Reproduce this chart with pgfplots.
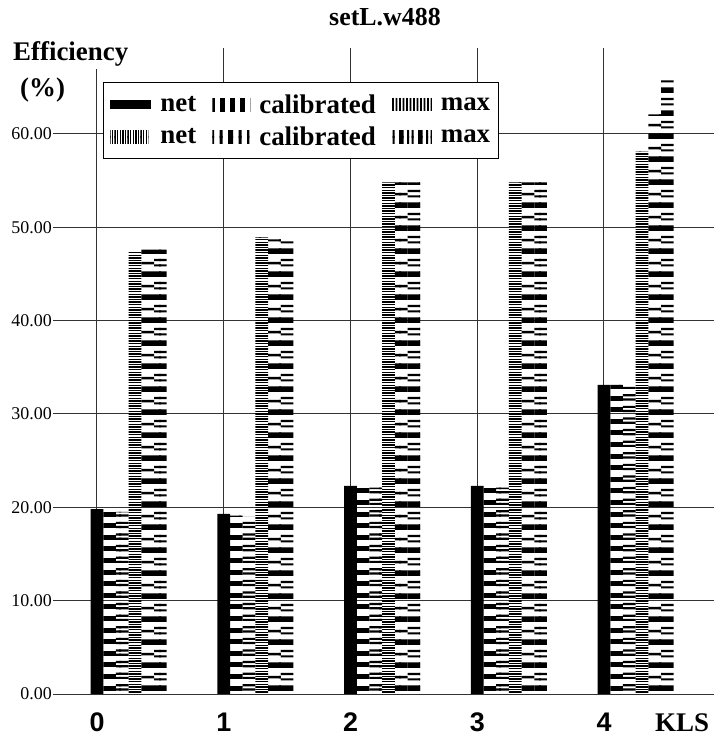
\documentclass[border=0pt]{standalone}
\usepackage{pgfplots}
\pgfplotsset{compat=1.18}
\usepackage{fontspec}
\setmainfont{Liberation Serif}
\newfontfamily\sansbold{Liberation Sans}
\usetikzlibrary{patterns}

% horizontal stripe fills for the bars (tiles overlap sideways to avoid seams)
\pgfdeclarepatternformonly{calA}{\pgfqpoint{-1bp}{0bp}}{\pgfqpoint{21bp}{11.6bp}}{\pgfqpoint{20bp}{11.6bp}}{%
  \pgfpathrectangle{\pgfqpoint{-1bp}{0bp}}{\pgfqpoint{22bp}{5bp}}\pgfusepath{fill}}
\pgfdeclarepatternformonly{maxA}{\pgfqpoint{-1bp}{0bp}}{\pgfqpoint{21bp}{11.6bp}}{\pgfqpoint{20bp}{11.6bp}}{%
  \pgfpathrectangle{\pgfqpoint{-1bp}{0bp}}{\pgfqpoint{22bp}{2.2bp}}%
  \pgfpathrectangle{\pgfqpoint{-1bp}{4.2bp}}{\pgfqpoint{22bp}{2.2bp}}\pgfusepath{fill}}
\pgfdeclarepatternformonly{netB}{\pgfqpoint{-1bp}{0bp}}{\pgfqpoint{21bp}{2.6bp}}{\pgfqpoint{20bp}{2.6bp}}{%
  \pgfpathrectangle{\pgfqpoint{-1bp}{0bp}}{\pgfqpoint{22bp}{1.3bp}}\pgfusepath{fill}}
\pgfdeclarepatternformonly{calB}{\pgfqpoint{-1bp}{0bp}}{\pgfqpoint{21bp}{23bp}}{\pgfqpoint{20bp}{23bp}}{%
  \pgfpathrectangle{\pgfqpoint{-1bp}{0bp}}{\pgfqpoint{22bp}{5.5bp}}%
  \pgfpathrectangle{\pgfqpoint{-1bp}{12.5bp}}{\pgfqpoint{22bp}{2.5bp}}\pgfusepath{fill}}
\pgfdeclarepatternformonly{maxB}{\pgfqpoint{-1bp}{0bp}}{\pgfqpoint{21bp}{23bp}}{\pgfqpoint{20bp}{23bp}}{%
  \pgfpathrectangle{\pgfqpoint{-1bp}{0bp}}{\pgfqpoint{22bp}{5.5bp}}%
  \pgfpathrectangle{\pgfqpoint{-1bp}{10.5bp}}{\pgfqpoint{22bp}{2.2bp}}%
  \pgfpathrectangle{\pgfqpoint{-1bp}{15.8bp}}{\pgfqpoint{22bp}{2.2bp}}\pgfusepath{fill}}

% the same fills turned upright for the legend swatches
\pgfdeclarepatternformonly{vcalA}{\pgfqpoint{0bp}{-1bp}}{\pgfqpoint{10bp}{21bp}}{\pgfqpoint{10bp}{20bp}}{%
  \pgfpathrectangle{\pgfqpoint{0bp}{-1bp}}{\pgfqpoint{4.8bp}{22bp}}\pgfusepath{fill}}
\pgfdeclarepatternformonly{vmaxA}{\pgfqpoint{0bp}{-1bp}}{\pgfqpoint{7bp}{21bp}}{\pgfqpoint{7bp}{20bp}}{%
  \pgfpathrectangle{\pgfqpoint{0bp}{-1bp}}{\pgfqpoint{1.8bp}{22bp}}%
  \pgfpathrectangle{\pgfqpoint{3.5bp}{-1bp}}{\pgfqpoint{1.8bp}{22bp}}\pgfusepath{fill}}
\pgfdeclarepatternformonly{vnetB}{\pgfqpoint{0bp}{-1bp}}{\pgfqpoint{2.6bp}{21bp}}{\pgfqpoint{2.6bp}{20bp}}{%
  \pgfpathrectangle{\pgfqpoint{0bp}{-1bp}}{\pgfqpoint{1.3bp}{22bp}}\pgfusepath{fill}}
\pgfdeclarepatternformonly{vcalB}{\pgfqpoint{0bp}{-1bp}}{\pgfqpoint{19bp}{21bp}}{\pgfqpoint{19bp}{20bp}}{%
  \pgfpathrectangle{\pgfqpoint{0bp}{-1bp}}{\pgfqpoint{5bp}{22bp}}%
  \pgfpathrectangle{\pgfqpoint{10.5bp}{-1bp}}{\pgfqpoint{3bp}{22bp}}\pgfusepath{fill}}
\pgfdeclarepatternformonly{vmaxB}{\pgfqpoint{0bp}{-1bp}}{\pgfqpoint{19bp}{21bp}}{\pgfqpoint{19bp}{20bp}}{%
  \pgfpathrectangle{\pgfqpoint{0bp}{-1bp}}{\pgfqpoint{4.5bp}{22bp}}%
  \pgfpathrectangle{\pgfqpoint{8bp}{-1bp}}{\pgfqpoint{2.2bp}{22bp}}%
  \pgfpathrectangle{\pgfqpoint{12.5bp}{-1bp}}{\pgfqpoint{2.2bp}{22bp}}\pgfusepath{fill}}

% efficiency (%) per KLS setting
\pgfplotstableread{
kls net1 cal1 max1 net2 cal2 max2
0   19.8 19.6 19.5 47.4 47.6 47.6
1   19.3 19.1 19.0 48.9 48.7 48.7
2   22.3 22.3 22.1 54.8 54.8 54.8
3   22.3 22.3 22.1 54.8 54.8 54.8
4   33.1 33.1 32.9 58.1 62.1 65.8
}\effdata

\begin{document}
\begin{tikzpicture}
\begin{axis}[
  scale only axis,
  width=661bp, height=646bp,
  xmin=-0.347, xmax=4.868,
  ymin=0, ymax=69.2,
  enlargelimits=false,
  ybar, bar width=0.1,
  xtick={0,1,2,3,4},
  ytick={0,10,...,60},
  grid=major,
  major grid style={black!80, line width=1bp},
  axis line style={draw=none},
  major tick length=0pt,
  /pgf/number format/assume math mode=true,
  yticklabel style={font=\fontsize{18}{18}\selectfont, inner sep=1bp,
    /pgf/number format/.cd, fixed, fixed zerofill, precision=2},
  xticklabel style={font=\sansbold\bfseries\fontsize{27}{27}\selectfont,
    anchor=base, yshift=-37bp},
  legend columns=3,
  legend cell align=left,
  legend style={
    at={(0.0756,0.9474)}, anchor=north west,
    draw=black, line width=1bp, fill=white,
    font=\fontsize{27}{27}\selectfont\bfseries,
    inner xsep=7bp, inner ysep=11bp,
    row sep=10bp,
    nodes={inner sep=1bp},
    /tikz/every odd column/.append style={column sep=8bp},
    /tikz/every even column/.append style={column sep=15bp},
  },
]
\addplot[draw=none, fill=black, bar shift=0,
  legend image code/.code={\fill[black] (0bp,-4.5bp) rectangle (41bp,4.5bp);}]
  table[x=kls, y=net1] {\effdata};
\addplot[draw=none, pattern=calA, bar shift=0.1,
  legend image code/.code={\fill[pattern=vcalA] (0bp,-6.5bp) rectangle (38bp,6.5bp);}]
  table[x=kls, y=cal1] {\effdata};
\addplot[draw=none, pattern=maxA, bar shift=0.2,
  legend image code/.code={\fill[pattern=vmaxA] (0bp,-6bp) rectangle (40bp,6bp);}]
  table[x=kls, y=max1] {\effdata};
\addplot[draw=none, pattern=netB, bar shift=0.3,
  legend image code/.code={\fill[pattern=vnetB] (0bp,-6.5bp) rectangle (38bp,6.5bp);}]
  table[x=kls, y=net2] {\effdata};
\addplot[draw=none, pattern=calB, bar shift=0.4,
  legend image code/.code={\fill[pattern=vcalB] (0bp,-6.5bp) rectangle (37bp,6.5bp);}]
  table[x=kls, y=cal2] {\effdata};
\addplot[draw=none, pattern=maxB, bar shift=0.5,
  legend image code/.code={\fill[pattern=vmaxB] (0bp,-6.5bp) rectangle (40bp,6.5bp);}]
  table[x=kls, y=max2] {\effdata};
\legend{net, calibrated, max, net, calibrated, max}
\end{axis}
% title, axis names
\node[font=\fontsize{26}{26}\selectfont\bfseries, anchor=base] at (332bp,668bp) {setL.w488};
\node[font=\fontsize{27}{27}\selectfont\bfseries, anchor=base west, inner sep=0pt, fill=white]
  at (-40bp,633bp) {Efficiency\strut};
\node[font=\fontsize{27}{27}\selectfont\bfseries, anchor=base west, inner sep=0pt]
  at (-33bp,597bp) {(\%)};
\node[font=\fontsize{27}{27}\selectfont\bfseries, anchor=base west, inner sep=0pt]
  at (602bp,-37bp) {KLS};
\pgfresetboundingbox
\path[use as bounding box] (-53bp,-43bp) rectangle (661bp,694bp);
\end{tikzpicture}
\end{document}
